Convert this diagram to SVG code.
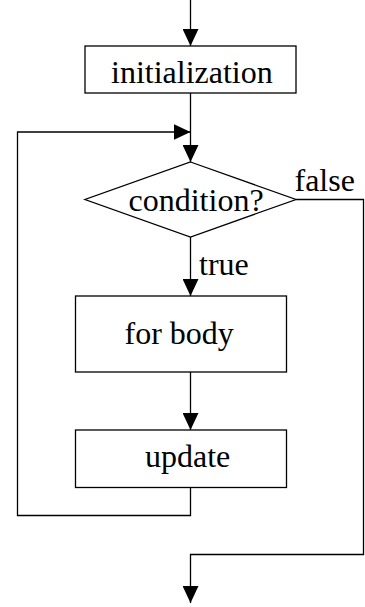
<svg xmlns="http://www.w3.org/2000/svg" width="365" height="607" viewBox="0 0 365 607">
<style>
.box{fill:#fff;stroke:#000;stroke-width:1.3}
.ln{fill:none;stroke:#000;stroke-width:1.3}
.t{font-family:"Liberation Serif","Times New Roman",serif;font-size:32px;fill:#000}
</style>
<defs>
<marker id="ah" viewBox="0 0 17 16" refX="17" refY="8" markerWidth="17" markerHeight="16" markerUnits="userSpaceOnUse" orient="auto">
<path d="M0,0 L17,8 L0,16 Z" fill="#000"/>
</marker>
</defs>
<g id="connectors">
<path class="ln" d="M190.5,0 V46" marker-end="url(#ah)"/>
<path class="ln" d="M190.5,93 V162" marker-end="url(#ah)"/>
<path class="ln" d="M190.5,487.5 V515.5 H17.5 V132 H190.5" marker-end="url(#ah)"/>
<path class="ln" d="M190.5,237 V296" marker-end="url(#ah)"/>
<path class="ln" d="M190.5,372 V430" marker-end="url(#ah)"/>
<path class="ln" d="M296,199.5 H363.5 V554.5 H190.5 V603" marker-end="url(#ah)"/>
<text class="t" x="294.5" y="190.5">false</text>
<text class="t" x="199" y="275">true</text>
</g>
<g id="init">
<rect class="box" x="85" y="46" width="211" height="47"/>
<text class="t" x="111" y="83">initialization</text>
</g>
<g id="cond">
<polygon class="box" points="190.5,162 296,199.5 190.5,237 85,199.5"/>
<text class="t" x="128.5" y="210.5">condition?</text>
</g>
<g id="body">
<rect class="box" x="75.5" y="296" width="211" height="76"/>
<text class="t" x="124.5" y="344">for body</text>
</g>
<g id="update">
<rect class="box" x="75.5" y="430" width="211" height="57.5"/>
<text class="t" x="145" y="466.5">update</text>
</g>
</svg>
